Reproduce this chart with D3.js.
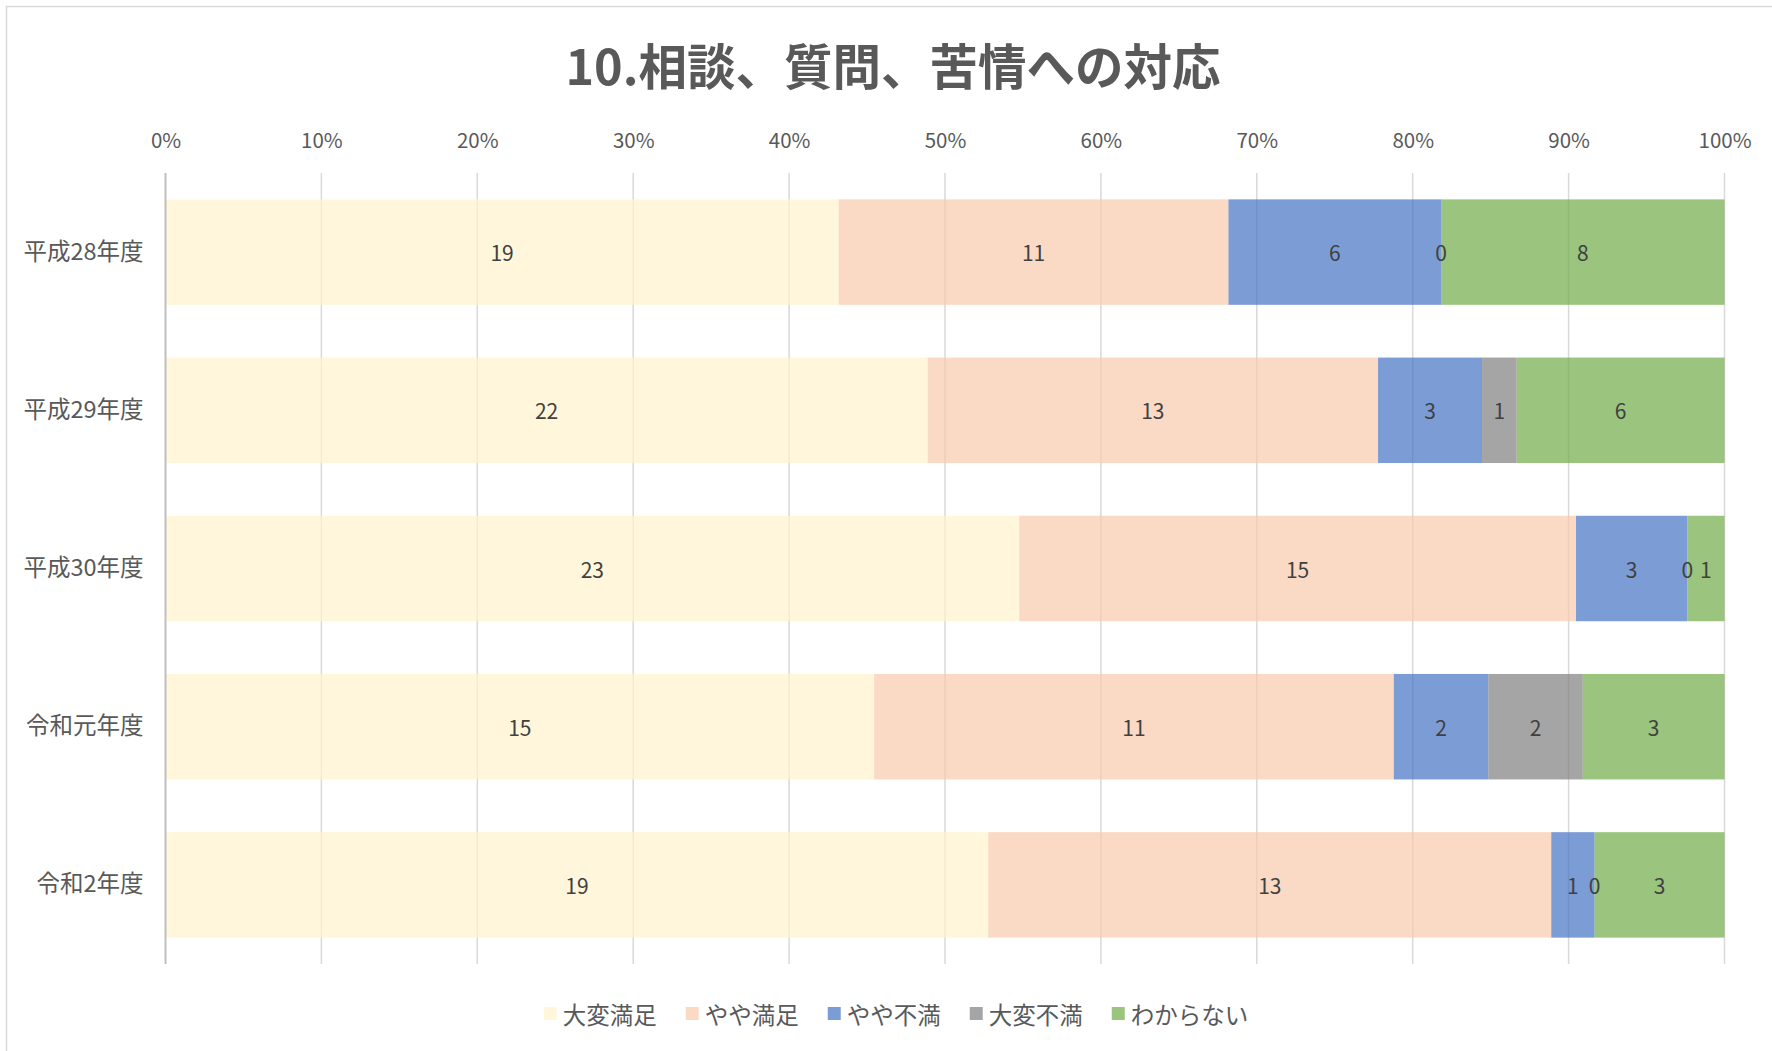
<!DOCTYPE html>
<html lang="ja">
<head>
    <meta charset="UTF-8">
    <title>10.相談、質問、苦情への対応</title>
    <script src="https://d3js.org/d3.v7.min.js"></script>
    <style>
        body {
            margin: 0;
            background: #fff;
            font-family: "Noto Sans CJK JP", "Noto Sans", sans-serif;
        }
        .axis text { fill: #595959; }
    </style>
</head>
<body>
    <svg id="chart" width="1772" height="1051"></svg>

    <script>
        // データ
        const years = ["平成28年度", "平成29年度", "平成30年度", "令和元年度", "令和2年度"];
        const seriesNames = ["大変満足", "やや満足", "やや不満", "大変不満", "わからない"];
        const seriesColors = ["#FFF2CC", "#F8CBAD", "#4472C4", "#7F7F7F", "#70AD47"];
        const veryGood = [19, 22, 23, 15, 19];
        const good = [11, 13, 15, 11, 13];
        const bad = [6, 3, 3, 2, 1];
        const veryBad = [0, 1, 0, 2, 0];
        const unknown = [8, 6, 1, 3, 3];
        const tickValues = [0, 0.1, 0.2, 0.3, 0.4, 0.5, 0.6, 0.7, 0.8, 0.9, 1];

        const values = [veryGood, good, bad, veryBad, unknown];

        const svg = d3.select("#chart");

        // 外枠
        svg.append("rect")
            .attr("x", 6.5).attr("y", 6.5)
            .attr("width", 1800).attr("height", 1100)
            .attr("fill", "none")
            .attr("stroke", "#d9d9d9")
            .attr("stroke-width", 1.5);

        // タイトル
        svg.append("text")
            .attr("x", 893)
            .attr("y", 64)
            .attr("text-anchor", "middle")
            .attr("dominant-baseline", "central")
            .attr("font-size", "48.5px")
            .attr("font-weight", "bold")
            .attr("fill", "#595959")
            .text("10.相談、質問、苦情への対応");

        const plotLeft = 165.5, plotRight = 1724.5, plotTop = 173, plotBottom = 964;

        const x = d3.scaleLinear().domain([0, 1]).range([plotLeft, plotRight]);
        const y = d3.scaleBand()
            .domain(years)
            .range([plotTop, plotBottom])
            .paddingInner(1 / 3)
            .paddingOuter(1 / 6);

        // グリッド線
        svg.append("g")
            .selectAll("line")
            .data(tickValues.slice(1))
            .enter()
            .append("line")
            .attr("x1", d => x(d)).attr("x2", d => x(d))
            .attr("y1", plotTop).attr("y2", plotBottom)
            .attr("stroke", "#d9d9d9")
            .attr("stroke-width", 1.5);

        // 上の軸ラベル
        const xAxis = svg.append("g")
            .attr("class", "axis")
            .attr("transform", `translate(0,${plotTop})`)
            .call(d3.axisTop(x).tickValues(tickValues).tickFormat(d3.format(".0%")).tickSize(0).tickPadding(0));
        xAxis.select(".domain").remove();
        xAxis.selectAll("text")
            .attr("y", 141 - plotTop)
            .attr("dy", "0.35em")
            .attr("font-size", "20.5px")
            .attr("font-family", "'Noto Sans CJK JP', sans-serif");

        // 積み上げデータ
        const rows = years.map((yr, i) => {
            const total = d3.sum(values, v => v[i]);
            let acc = 0;
            return seriesNames.map((name, s) => {
                const v = values[s][i];
                const seg = { year: yr, series: s, value: v, x0: acc / total, x1: (acc + v) / total };
                acc += v;
                return seg;
            });
        }).flat();

        svg.append("g")
            .selectAll("rect")
            .data(rows)
            .enter()
            .append("rect")
            .attr("x", d => x(d.x0))
            .attr("y", d => y(d.year))
            .attr("width", d => x(d.x1) - x(d.x0))
            .attr("height", y.bandwidth())
            .attr("fill", d => seriesColors[d.series])
            .attr("fill-opacity", 0.7);

        // 値ラベル
        svg.append("g")
            .selectAll("text")
            .data(rows)
            .enter()
            .append("text")
            .attr("x", d => x((d.x0 + d.x1) / 2))
            .attr("y", d => y(d.year) + y.bandwidth() / 2)
            .attr("text-anchor", "middle")
            .attr("dominant-baseline", "central")
            .attr("font-size", "21px")
            .attr("fill", "#404040")
            .text(d => d.value);

        // 左の軸
        const yAxis = svg.append("g")
            .attr("class", "axis")
            .attr("transform", `translate(${plotLeft},0)`)
            .call(d3.axisLeft(y).tickSize(0).tickPadding(22));
        yAxis.select(".domain")
            .attr("d", `M0,${plotTop}V${plotBottom}`)
            .attr("stroke", "#bfbfbf")
            .attr("stroke-width", 2);
        yAxis.selectAll("text")
            .attr("font-size", "23.5px")
            .attr("font-family", "'Noto Sans CJK JP', sans-serif");

        // 凡例
        const legend = svg.append("g").attr("transform", "translate(0,1014)");
        let lx = 0;
        seriesNames.forEach((name, i) => {
            const g = legend.append("g");
            g.append("rect")
                .attr("x", 0).attr("y", -7)
                .attr("width", 13).attr("height", 13)
                .attr("fill", seriesColors[i])
                .attr("fill-opacity", 0.7);
            const t = g.append("text")
                .attr("x", 19)
                .attr("dominant-baseline", "central")
                .attr("font-size", "23.5px")
                .attr("fill", "#595959")
                .text(name);
            const w = 19 + t.node().getComputedTextLength();
            g.attr("transform", `translate(${lx},0)`);
            lx += w + 29;
        });
        const legendWidth = lx - 29;
        legend.attr("transform", `translate(${896 - legendWidth / 2},1014)`);
    </script>
</body>
</html>
